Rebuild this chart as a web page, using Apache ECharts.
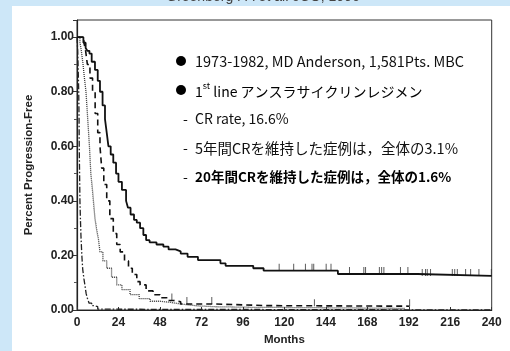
<!DOCTYPE html>
<html>
<head>
<meta charset="utf-8">
<script src="https://cdn.jsdelivr.net/npm/echarts@6/dist/echarts.min.js"></script>
<style>
  html, body { margin: 0; padding: 0; background: #cde7f8; }
  #main { width: 510px; height: 351px; }
</style>
</head>
<body>
<div id="main"></div>
<script>
// ===== データ =====
var yTicks = [0, 0.2, 0.4, 0.6, 0.8, 1.0];
var xTicks = [0, 24, 48, 72, 96, 120, 144, 168, 192, 216, 240];

// 実線
var solidMonths = [0, 3.7, 5, 6, 7.2, 8.5, 10.4, 12, 13.3, 14.8, 16.2, 17.2, 18.2, 19.5, 21, 22.6, 24, 26, 28.4, 29.5, 31, 33, 34.6, 36.5, 38.4, 40, 42, 46, 50, 53, 57, 60, 64, 70, 83, 86, 102, 108, 151, 197, 240];
var solidValues = [1.0, 0.98, 0.96, 0.95, 0.94, 0.91, 0.88, 0.84, 0.80, 0.75, 0.70, 0.65, 0.60, 0.57, 0.54, 0.50, 0.47, 0.44, 0.40, 0.375, 0.35, 0.33, 0.32, 0.30, 0.275, 0.256, 0.248, 0.24, 0.232, 0.222, 0.215, 0.207, 0.195, 0.183, 0.171, 0.162, 0.153, 0.144, 0.132, 0.125, 0.125];
var solidCensor = [117, 125.4, 132.2, 136, 137, 144.2, 147, 157.7, 166, 167, 175, 176.3, 177.6, 187.2, 191.5, 199.8, 201.7, 202.7, 204.6, 217.2, 218.6, 220.1, 224.9, 227.8, 232.6, 239.8];

// 破線
var dashMonths = [0, 4, 5, 6, 7.5, 9, 10.5, 12, 13.3, 14.3, 15.5, 17.2, 19, 21, 23, 25, 27.5, 29.8, 32, 34.6, 36.5, 40, 44, 48, 52, 56, 60, 80, 110, 192.5];
var dashValues = [1.0, 0.98, 0.95, 0.90, 0.85, 0.80, 0.72, 0.65, 0.60, 0.52, 0.46, 0.40, 0.335, 0.28, 0.24, 0.213, 0.18, 0.153, 0.13, 0.104, 0.092, 0.07, 0.056, 0.045, 0.035, 0.03, 0.022, 0.016, 0.014, 0.014];
var dashCensor = [54.9, 63.6, 78, 137.4, 192.5];

// 点線
var dotMonths = [0, 1.7, 2.5, 3.5, 4.3, 5.2, 6, 6.6, 7.2, 7.6, 8, 8.8, 9.5, 10.4, 11.5, 12.4, 13.3, 15, 17.2, 20, 23, 26, 30.7, 36, 42.3, 48, 54, 60, 70, 80, 100, 150, 190];
var dotValues = [1.0, 0.98, 0.95, 0.90, 0.85, 0.80, 0.72, 0.66, 0.60, 0.55, 0.50, 0.45, 0.40, 0.335, 0.29, 0.26, 0.213, 0.18, 0.153, 0.12, 0.092, 0.075, 0.056, 0.042, 0.032, 0.028, 0.022, 0.015, 0.012, 0.01, 0.008, 0.006, 0.005];

// 一点鎖線
var dashDotMonths = [0, 0.4, 0.7, 1.0, 1.2, 1.3, 1.5, 1.7, 2.0, 2.3, 2.8, 3.3, 4, 4.6, 5.3, 6, 7, 8.5, 10, 12, 13, 240];
var dashDotValues = [1.0, 0.95, 0.88, 0.80, 0.70, 0.60, 0.50, 0.40, 0.33, 0.27, 0.20, 0.15, 0.115, 0.09, 0.06, 0.043, 0.025, 0.016, 0.012, 0.003, 0, 0];

// 注釈テキスト
var titleText = 'Greenberg PA et al. JCO, 1996';
var noteLines = [
    '1973-1982, MD Anderson, 1,581Pts. MBC',
    'アンスラサイクリンレジメン',
    'CR rate, 16.6%',
    '5年間CRを維持した症例は，全体の3.1%',
    '20年間CRを維持した症例は，全体の1.6%'
];

// ===== 関数 =====
function zip(a, b) {
    var out = [];
    for (var i = 0; i < a.length; i++) {
        out.push([a[i], b[i]]);
    }
    return out;
}
// 打ち切り記号の高さ＝その時点の生存値
function censorPoints(months, curveM, curveV) {
    var out = [];
    for (var i = 0; i < months.length; i++) {
        var v = curveV[0];
        for (var j = 0; j < curveM.length; j++) {
            if (curveM[j] <= months[i]) v = curveV[j];
        }
        out.push([months[i], v]);
    }
    return out;
}

var myChart = echarts.init(document.getElementById('main'));
var labelFont = {fontFamily: 'Liberation Sans, Arial, sans-serif', fontWeight: 'bold', fontSize: 12, color: '#222'};
var nameFont = {fontFamily: 'Liberation Sans, Arial, sans-serif', fontWeight: 'bold', fontSize: 11.5, color: '#222'};
var noteFont = "'Noto Sans CJK JP', 'Noto Sans', sans-serif";

var option = {
    backgroundColor: '#cde7f8',
    animation: false,
    grid: {
        left: 77,
        right: 18.3,
        top: 20,
        bottom: 39.3,
        show: true,
        backgroundColor: 'transparent',
        borderColor: '#333',
        borderWidth: 1
    },
    xAxis: {
        type: 'value',
        min: xTicks[0],
        max: xTicks[xTicks.length - 1],
        interval: 24,
        name: 'Months',
        nameLocation: 'middle',
        nameGap: 24,
        nameTextStyle: nameFont,
        axisLine: {lineStyle: {color: '#222', width: 1.2}},
        axisTick: {inside: true, length: 3, lineStyle: {color: '#333'}},
        axisLabel: Object.assign({margin: 7}, labelFont),
        splitLine: {show: false}
    },
    yAxis: {
        type: 'value',
        min: 0,
        max: 1.063,
        interval: 0.2,
        name: 'Percent Progression-Free',
        nameLocation: 'middle',
        nameGap: 42,
        nameTextStyle: nameFont,
        axisLine: {show: true, lineStyle: {color: '#222', width: 1.2}},
        axisTick: {length: 4, lineStyle: {color: '#333'}},
        minorTick: {show: true, splitNumber: 2, length: 3, lineStyle: {color: '#555'}},
        axisLabel: Object.assign({
            margin: 3,
            showMaxLabel: false,
            formatter: function (v) { return v.toFixed(2); }
        }, labelFont),
        splitLine: {show: false}
    },
    series: [{
        type: 'line',
        step: 'end',
        symbol: 'none',
        data: zip(dashDotMonths, dashDotValues),
        lineStyle: {color: '#222', width: 1.3, type: [6, 2, 1.5, 2]}
    }, {
        type: 'line',
        step: 'end',
        symbol: 'none',
        data: zip(dotMonths, dotValues),
        lineStyle: {color: '#333', width: 1.3, type: [1, 1]}
    }, {
        type: 'line',
        step: 'end',
        symbol: 'none',
        data: zip(dashMonths, dashValues),
        lineStyle: {color: '#111', width: 1.6, type: [6, 4]}
    }, {
        type: 'line',
        step: 'end',
        symbol: 'none',
        data: zip(solidMonths, solidValues),
        lineStyle: {color: '#111', width: 1.8}
    }, {
        type: 'scatter',
        symbol: 'rect',
        symbolSize: [1, 7],
        symbolOffset: [0, -3.5],
        itemStyle: {color: '#333'},
        data: censorPoints(solidCensor, solidMonths, solidValues)
    }, {
        type: 'scatter',
        symbol: 'rect',
        symbolSize: [1, 7],
        symbolOffset: [0, -3.5],
        itemStyle: {color: '#333'},
        data: censorPoints(dashCensor, dashMonths, dashValues)
    }],
    graphic: [
        // 白いパネル
        {type: 'rect', left: 12, top: 6, z: -10, silent: true,
            shape: {width: 498, height: 345}, style: {fill: '#fff'}},
        {type: 'text', x: 263, y: 4, z: 10,
            style: {text: titleText, fill: '#444', font: '14px "Liberation Sans", Arial, sans-serif',
                textAlign: 'center', textVerticalAlign: 'bottom'}},
        // ●
        {type: 'circle', shape: {cx: 181, cy: 61, r: 5}, style: {fill: '#000'}},
        {type: 'circle', shape: {cx: 181, cy: 90, r: 5}, style: {fill: '#000'}},
        {type: 'text', x: 195, y: 61,
            style: {text: noteLines[0], fill: '#111', font: '14.5px ' + noteFont, textVerticalAlign: 'middle'}},
        {type: 'text', x: 195, y: 90,
            style: {
                text: '{n|1}{s|st}{n| line ' + noteLines[1] + '}',
                textVerticalAlign: 'middle',
                rich: {
                    n: {fontSize: 14, fontFamily: noteFont, color: '#111', lineHeight: 18, verticalAlign: 'bottom'},
                    s: {fontSize: 9, fontFamily: noteFont, color: '#111', lineHeight: 18, verticalAlign: 'top'}
                }
            }},
        {type: 'text', x: 183, y: 119,
            style: {text: '-', fill: '#111', font: '14px ' + noteFont, textVerticalAlign: 'middle'}},
        {type: 'text', x: 195, y: 119,
            style: {text: noteLines[2], fill: '#111', font: '14px ' + noteFont, textVerticalAlign: 'middle'}},
        {type: 'text', x: 183, y: 148,
            style: {text: '-', fill: '#111', font: '14px ' + noteFont, textVerticalAlign: 'middle'}},
        {type: 'text', x: 195, y: 148,
            style: {text: noteLines[3], fill: '#111', font: '14.5px ' + noteFont, textVerticalAlign: 'middle'}},
        {type: 'text', x: 183, y: 177,
            style: {text: '-', fill: '#111', font: '14px ' + noteFont, textVerticalAlign: 'middle'}},
        {type: 'text', x: 195, y: 177,
            style: {text: noteLines[4], fill: '#000', font: 'bold 13.5px ' + noteFont, textVerticalAlign: 'middle'}}
    ]
};
myChart.setOption(option);
</script>
</body>
</html>
